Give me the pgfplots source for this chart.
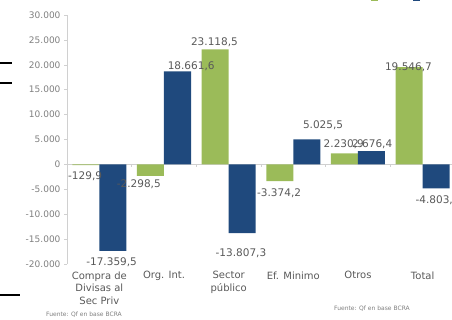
\documentclass[border=0pt]{standalone}
\usepackage{pgfplots}
\pgfplotsset{compat=1.18}
\usepackage{fontspec}
\setmainfont{DejaVu Sans}
\definecolor{g17}{HTML}{9BBB59}
\definecolor{b18}{HTML}{1F497D}
\definecolor{txt}{HTML}{595959}
\definecolor{tk}{HTML}{7F7F7F}
\definecolor{ax}{HTML}{D0D0D0}
\pgfplotstableread{
x y label
-0.22 -2330 -129,9
0.19 -19600 -17.359,5
0.61 -3940 -2.298,5
1.42 19760 18.661,6
1.78 24580 23.118,5
2.19 -17750 -13.807,3
2.78 -5700 -3.374,2
3.46 7910 5.025,5
3.78 4100 2.230,9
4.22 4100 2.676,4
4.78 19560 19.546,7
5.23 -7150 -4.803,3
}\labels
\begin{document}
\begin{tikzpicture}[x=1pt,y=1pt]
\path[use as bounding box] (0,0) rectangle (452,319);
\clip (0,0) rectangle (452,319);
\draw[line width=1.5pt] (0,256) -- (12,256);
\draw[line width=1.5pt] (0,236) -- (12,236);
\draw[line width=1.8pt] (0,24) -- (20,24);
\begin{axis}[
  at={(67pt,55pt)}, anchor=south west,
  scale only axis, width=388pt, height=249pt,
  xmin=-0.5, xmax=5.5, ymin=-20000, ymax=30000,
  axis y line*=left, axis x line*=bottom,
  x axis line style={draw=none},
  y axis line style={draw=ax, line width=0.8pt},
  xtick={0,...,5},
  xticklabels={{Compra de\\Divisas al\\Sec Priv},{Org. Int.},{Sector\\público},{Ef. Minimo},{Otros},{Total}},
  xtick style={draw=none},
  xticklabel style={align=center, font=\fontsize{10}{12.5}\selectfont, text=txt, anchor=north, yshift=-1pt},
  ytick={-20000,-15000,...,30000},
  scaled y ticks=false,
  tick align=outside, major tick length=3pt,
  ytick style={draw=ax, line width=0.6pt},
  yticklabel style={font=\fontsize{9}{10}\selectfont, text=tk,
    /pgf/number format/.cd, fixed, 1000 sep={.}, assume math mode=true},
  extra y ticks={0}, extra y tick labels={},
  extra y tick style={grid=major, major grid style={draw=ax, line width=0.8pt}, tick style={draw=none}},
  legend style={at={(0.881,1.072)}, anchor=center, draw=none, fill=none, legend columns=2,
    font=\fontsize{9}{10}\selectfont, text=tk,
    /tikz/every even column/.append style={column sep=8pt}},
  legend image code/.code={\fill[#1] (0pt,-3.5pt) rectangle (7pt,3.5pt);},
]
\addplot[ybar, bar width=27pt, bar shift=-13.5pt, fill=g17, draw=none]
  coordinates {(0,-129.9) (1,-2298.5) (2,23118.5) (3,-3374.2) (4,2230.9) (5,19546.7)};
\addlegendentry{2017}
\addplot[ybar, bar width=27pt, bar shift=13.5pt, fill=b18, draw=none]
  coordinates {(0,-17359.5) (1,18661.6) (2,-13807.3) (3,5025.5) (4,2676.4) (5,-4803.3)};
\addlegendentry{2018}
\pgfplotsinvokeforeach{-0.5,0.5,1.5,2.5,3.5,4.5}{
  \draw[ax, line width=0.6pt] (axis cs:#1,0) -- (axis cs:#1,-600);
}
\addplot[forget plot, scatter, only marks, mark=*, mark size=0pt,
  point meta=explicit symbolic,
  scatter/@pre marker code/.code={\node[font=\fontsize{10.5}{12}\selectfont, text=txt, inner sep=0pt] {\pgfplotspointmeta};},
  scatter/@post marker code/.code={}]
  table[x=x, y=y, meta=label] {\labels};
\end{axis}
\node[font=\fontsize{6}{7}\selectfont, text=tk] at (84,4) {Fuente: Qf en base BCRA};
\node[font=\fontsize{6}{7}\selectfont, text=tk] at (372,10) {Fuente: Qf en base BCRA};
\end{tikzpicture}
\end{document}
